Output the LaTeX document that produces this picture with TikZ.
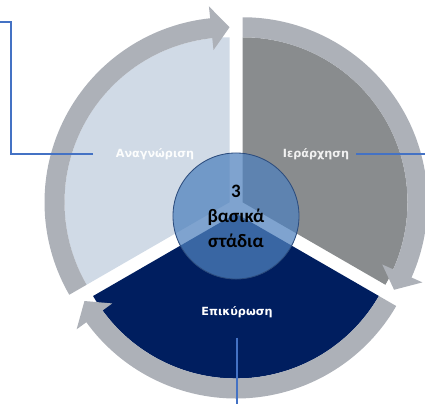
\documentclass[tikz,border=0pt]{standalone}
\usepackage{fontspec}
\usepackage{xcolor}
\definecolor{ringgray}{RGB}{173,177,184}
\definecolor{wedgelight}{RGB}{208,218,230}
\definecolor{wedgegray}{RGB}{137,140,142}
\definecolor{wedgenavy}{RGB}{0,30,95}
\definecolor{hubblue}{RGB}{79,129,189}
\definecolor{hubedge}{RGB}{44,76,125}
\definecolor{leader}{RGB}{68,114,196}
\newfontfamily\labelfont{DejaVu Sans}
\newfontfamily\hubfont{Carlito}
\usepackage{tikz}
\usetikzlibrary{calc,positioning}

% one ring piece: shift, start angle, end angle (runs clockwise, head at the end)
\newcommand{\ringseg}[3]{%
  \fill[ringgray,shift={#1}] (#2:185) arc[start angle=#2,end angle={#3+6},radius=185]
    -- ({#3+6}:197) -- (#3:175) -- ({#3+6}:153) -- ({#3+6}:165)
    arc[start angle={#3+6},end angle=#2,radius=165] -- cycle;}

\begin{document}
\begin{tikzpicture}[x=0.025cm,y=0.025cm,
    seglabel/.style={inner sep=0pt,font=\labelfont\bfseries\fontsize{8}{10}\selectfont},
    hub/.style={circle,minimum size=3.15cm,fill=hubblue,fill opacity=.73,text opacity=1,
      draw=hubedge,line width=.6pt,align=center,
      font=\hubfont\bfseries\fontsize{13.5}{17.8}\selectfont},
    leaderline/.style={draw=leader,line width=1pt}]
    \useasboundingbox (-236,-197) rectangle (189,206);
    % the three wedges, pulled apart
    \fill[wedgelight,shift={(-6.5,3.75)}] (0,0) -- (210:165) arc[start angle=210,end angle=90,radius=165] -- cycle;
    \fill[wedgegray,shift={(6.5,3.75)}] (0,0) -- (90:165) arc[start angle=90,end angle=-30,radius=165] -- cycle;
    \fill[wedgenavy,shift={(0,-7.5)}] (0,0) -- (330:165) arc[start angle=330,end angle=210,radius=165] -- cycle;
    % ring arrows
    \ringseg{(-6.5,3.75)}{210}{90}
    \ringseg{(6.5,3.75)}{90}{-30}
    \ringseg{(0,-7.5)}{330}{210}
    % hub
    \node[hub] (hub) at (0,-10) {3\\βασικά\\στάδια};
    % labels
    \node[seglabel,text=white!94!wedgelight] (anag) at (-81,52) {Αναγνώριση};
    \node[seglabel,text=white!88!wedgegray] (ier) at (80,52) {Ιεράρχηση};
    \node[seglabel,text=white] (epik) at (1,-106) {Επικύρωση};
    % leader lines
    \coordinate (anagbend) at (-225,184);
    \coordinate (anagend) at (-240,184);
    \coordinate (ierend) at (195,52);
    \coordinate (epikend) at (1,-205);
    \draw[leaderline] ([xshift=-16pt]anag.west) -| (anagbend) -- (anagend);
    \draw[leaderline] ([xshift=5pt]ier.east) -- (ierend);
    \draw[leaderline] ([yshift=-14pt]epik.south) -- (epikend);
\end{tikzpicture}
\end{document}
